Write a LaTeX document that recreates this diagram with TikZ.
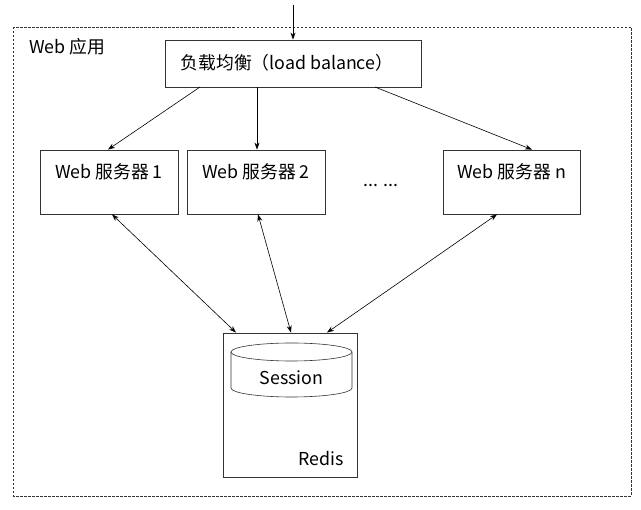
\documentclass[tikz,border=0pt]{standalone}
\usepackage{fontspec}
\setmainfont{Noto Sans CJK SC}
\usetikzlibrary{arrows.meta}
\begin{document}
\begin{tikzpicture}[x=1pt,y=-1pt,
  box/.style={draw=black!80,line width=0.8pt,fill=white},
  lbl/.style={font=\fontsize{17.8}{20}\selectfont,inner sep=0pt},
  arr/.style={-{Stealth[length=7pt,width=5pt]},line width=0.6pt},
  darr/.style={{Stealth[length=7pt,width=5pt]}-{Stealth[length=7pt,width=5pt]},line width=0.6pt}]
\useasboundingbox (0,0) rectangle (641,510);
\draw[dashed,line width=0.6pt,black!80,dash pattern=on 2.5pt off 1.5pt] (13,27) rectangle (631,496);
\node[lbl,anchor=west] (app) at (29,47) {Web 应用};
% load balancer
\node[box,minimum width=256pt,minimum height=47pt] (lb) at (293,63.5) {};
\node[lbl] (lbt) at (287,63) {负载均衡（load balance）};
\coordinate (in) at (293,5);
\draw[arr] (in) -- (lb.north);
% servers
\node[box,minimum width=138pt,minimum height=64pt] (s1) at (109,182) {};
\node[box,minimum width=138pt,minimum height=64pt] (s2) at (256,182) {};
\node[box,minimum width=137pt,minimum height=64pt] (sn) at (511.5,182) {};
\node[lbl] (t1) at (109,172) {Web 服务器 1};
\node[lbl] (t2) at (256,172) {Web 服务器 2};
\node[lbl] (tn) at (511.5,172) {Web 服务器 n};
\node[lbl] (dots) at (381,185) {... ...};
% redis
\node[box,minimum width=134pt,minimum height=144pt] (redis) at (290,405) {};
\node[lbl,anchor=south east] (rt) at (344,466) {Redis};
% cylinder
\draw[line width=0.6pt,black!80,fill=white] (231,352) -- (231,388) arc[start angle=180,end angle=360,x radius=60.5pt,y radius=9pt] -- (352,352);
\draw[line width=0.6pt,black!80,fill=white] (291.5,352) ellipse[x radius=60.5pt,y radius=9pt];
\node[lbl] (sess) at (291.5,378) {Session};
% connectors
\draw[arr] (200,87) -- (s1.north -| 108,0);
\draw[arr] (lb.south -| 257,0) -- (s2.north -| 257,0);
\draw[arr] (375,87) -- (sn.north -| 532,0);
\draw[darr] (s1.south -| 112,0) -- (redis.north -| 236,0);
\draw[darr] (s2.south -| 258,0) -- (redis.north -| 291,0);
\draw[darr] (sn.south -| 497,0) -- (redis.north -| 327,0);
\end{tikzpicture}
\end{document}
